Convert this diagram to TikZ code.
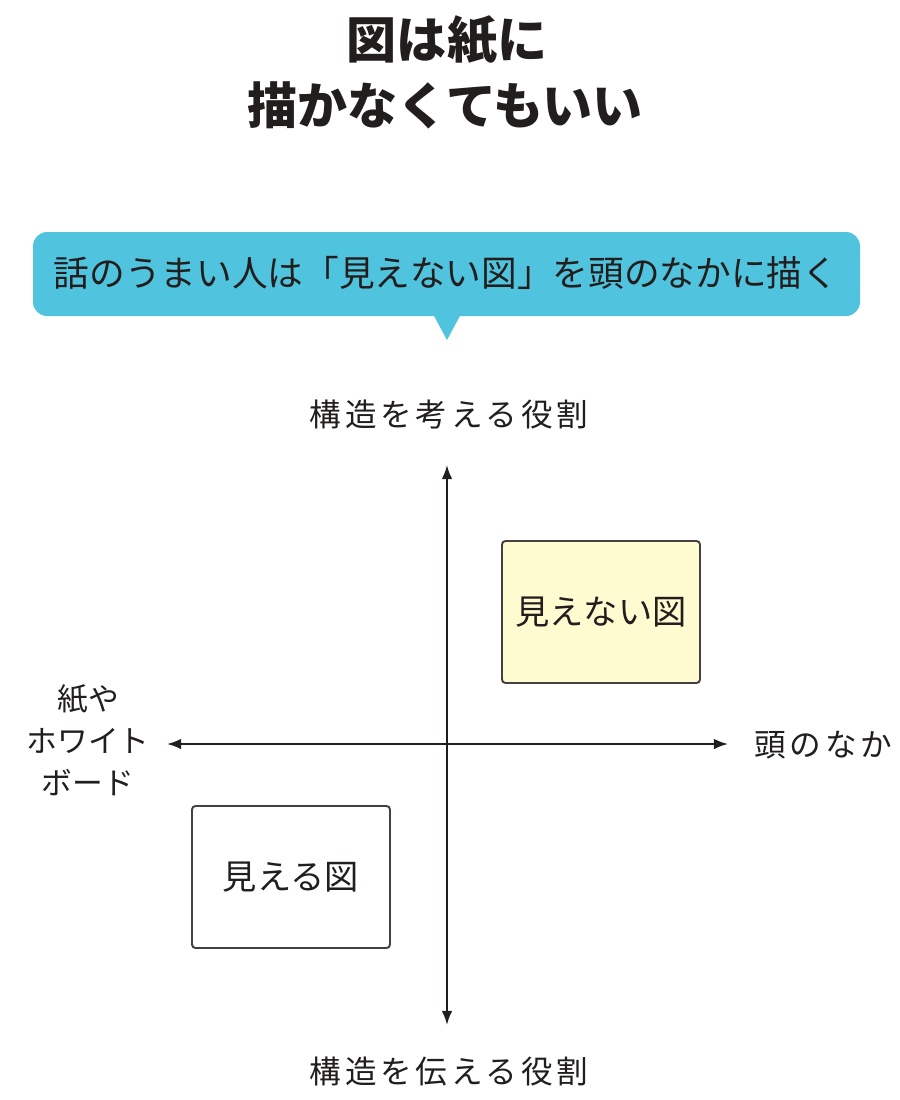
\documentclass[tikz,border=0pt]{standalone}
\usepackage{fontspec}
\setmainfont{Noto Sans CJK JP}
\usetikzlibrary{arrows.meta}
\definecolor{banner}{RGB}{80,196,222}
\definecolor{paleyellow}{RGB}{255,251,208}
\definecolor{ink}{RGB}{35,30,30}
\tikzset{
    axis/.style={line width=1.1pt,ink,{Latex[length=8pt,width=6pt]}-{Latex[length=8pt,width=6pt]}},
    figbox/.style={draw=ink!85,line width=1.1pt,rounded corners=2pt,minimum width=198*0.02cm,minimum height=142*0.02cm,font=\fontsize{19.5}{22}\selectfont,text=ink},
    axislabel/.style={font=\fontsize{18}{24}\selectfont\addfontfeatures{LetterSpace=12},text=ink}
}
\begin{document}
\begin{tikzpicture}[x=0.02cm,y=-0.02cm]
    \useasboundingbox (0,0) rectangle (900,1100);
    % title
    \node[font=\fontsize{28.5}{30}\selectfont\bfseries,text=ink] (title1) at (447,40) {図は紙に};
    \node[font=\fontsize{28.5}{30}\selectfont\bfseries,text=ink] (title2) at (445,105) {描かなくてもいい};
    % speech banner
    \fill[banner,rounded corners=8pt] (33,232) rectangle (860,316);
    \fill[banner] (433,314) -- (447,340) -- (461,314) -- cycle;
    \node[font=\fontsize{20.3}{24}\selectfont,text=ink] (banner) at (446,273) {話のうまい人は「見えない図」を頭のなかに描く};
    % axes
    \coordinate (top) at (447,465);
    \coordinate (bottom) at (447,1025);
    \coordinate (left) at (167,744);
    \coordinate (right) at (728,744);
    \draw[axis] (top) -- (bottom);
    \draw[axis] (left) -- (right);
    \node[axislabel] (up) at (449,415) {構造を考える役割};
    \node[axislabel] (down) at (449,1072) {構造を伝える役割};
    \node[axislabel,anchor=west] (head) at (748,745) {頭のなか};
    \node[font=\fontsize{17.5}{24}\selectfont,text=ink,align=center] (paper) at (88,740) {紙や\\ホワイト\\ボード};
    % quadrant boxes
    \node[figbox,fill=paleyellow] (unseen) at (601,612) {見えない図};
    \node[figbox,fill=white] (seen) at (291,877) {見える図};
\end{tikzpicture}
\end{document}
